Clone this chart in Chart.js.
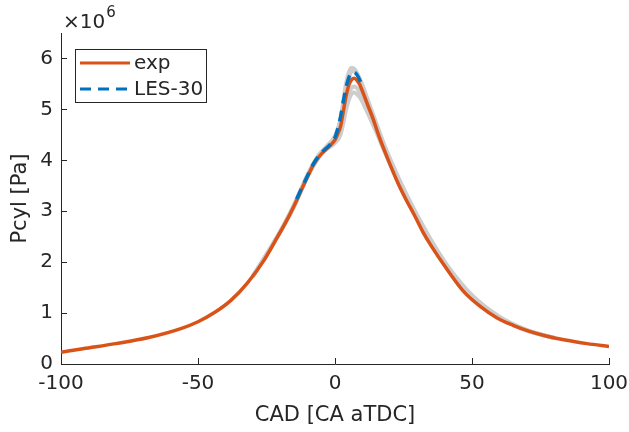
<!DOCTYPE html>
<html>
<head>
<meta charset="utf-8">
<script src="https://cdn.jsdelivr.net/npm/chart.js@4.4.1/dist/chart.umd.min.js"></script>
<style>
  html, body { margin: 0; padding: 0; background: #fff; }
  #wrap { width: 629px; height: 432px; }
</style>
</head>
<body>
<div id="wrap"><canvas id="pcyl" width="629" height="432"></canvas></div>
<script>
// crank angle (deg aTDC) and measured cylinder pressure (x1e6 Pa)
var expCad = [-100, -92, -80, -68, -56, -50, -44, -38, -32, -26, -22, -18, -15, -12, -10, -8, -6, -4, -2, 0,
  1, 2, 3, 4, 5, 6, 7, 8, 9, 10, 12, 14, 16, 18, 20, 23, 26, 29, 32, 35, 41, 47, 53, 59, 65, 71, 77, 84, 92, 100];
var expP = [0.23, 0.30, 0.40, 0.52, 0.70, 0.83, 1.01, 1.25, 1.59, 2.03, 2.40, 2.78, 3.10, 3.45, 3.68, 3.90, 4.06, 4.18, 4.28, 4.40,
  4.52, 4.66, 4.95, 5.25, 5.47, 5.58, 5.61, 5.57, 5.49, 5.36, 5.08, 4.80, 4.48, 4.20, 3.93, 3.55, 3.22, 2.92, 2.60, 2.33, 1.85, 1.42, 1.13, 0.91, 0.76, 0.64, 0.55, 0.47, 0.40, 0.345];

// LES-30 simulation
var lesCad = [-14, -12, -10, -8, -6, -4, -2, 0, 1, 2, 3, 4, 5, 6, 7, 8, 9, 10];
var lesP = [3.24, 3.47, 3.70, 3.92, 4.08, 4.20, 4.30, 4.45, 4.62, 4.85, 5.15, 5.42, 5.62, 5.72, 5.73, 5.68, 5.58, 5.45];

// individual cycles (grey)
var cycCad = [-30, -20, -15, -10, -6, -3, 0, 2, 3, 4, 5, 6, 7, 8, 9, 10, 12, 15, 18, 22, 26, 30, 36, 42, 50, 60, 70, 80];
var cyc1 = [1.72, 2.60, 3.12, 3.71, 4.09, 4.26, 4.45, 4.78, 5.15, 5.50, 5.72, 5.82, 5.80, 5.72, 5.60, 5.46, 5.15, 4.70, 4.25, 3.72, 3.27, 2.86, 2.30, 1.82, 1.33, 0.91, 0.66, 0.51];
var cyc2 = [1.72, 2.59, 3.08, 3.68, 4.05, 4.24, 4.36, 4.55, 4.80, 5.08, 5.30, 5.42, 5.45, 5.42, 5.35, 5.25, 5.00, 4.62, 4.22, 3.72, 3.28, 2.90, 2.33, 1.84, 1.34, 0.92, 0.66, 0.51];
var cyc3 = [1.72, 2.59, 3.10, 3.69, 4.06, 4.22, 4.34, 4.50, 4.72, 4.98, 5.18, 5.30, 5.33, 5.30, 5.24, 5.15, 4.92, 4.56, 4.18, 3.70, 3.27, 2.88, 2.32, 1.83, 1.33, 0.91, 0.66, 0.51];
var cyc4 = [1.72, 2.60, 3.12, 3.72, 4.10, 4.28, 4.48, 4.80, 5.10, 5.40, 5.62, 5.74, 5.76, 5.70, 5.60, 5.48, 5.18, 4.74, 4.30, 3.80, 3.34, 2.92, 2.35, 1.86, 1.35, 0.93, 0.67, 0.51];

var xTicks = [-100, -50, 0, 50, 100];
var yTicks = [0, 1, 2, 3, 4, 5, 6];

var FONT = 'DejaVu Sans';
var AXIS = '#262626';

function toXY(xs, ys) {
  var out = [];
  for (var i = 0; i < xs.length; i++) out.push({ x: xs[i], y: ys[i] * 1e6 });
  return out;
}

function greyCycle(vals) {
  return {
    label: '', data: toXY(cycCad, vals), borderColor: '#cdcdcd', borderWidth: 4, order: 3,
    pointRadius: 0, cubicInterpolationMode: 'monotone', fill: false, inLegend: false
  };
}

// inward tick marks, legend box and the x10^6 exponent
var decor = {
  id: 'decor',
  afterDraw: function(chart) {
    var ctx = chart.ctx, a = chart.chartArea;
    var xs = chart.scales.x, ys = chart.scales.y;
    ctx.save();
    ctx.strokeStyle = AXIS;
    ctx.lineWidth = 1;
    ctx.beginPath();
    xTicks.forEach(function(v) {
      var px = Math.round(xs.getPixelForValue(v)) + 0.5;
      ctx.moveTo(px, a.bottom);
      ctx.lineTo(px, a.bottom - 6);
    });
    yTicks.forEach(function(v) {
      var py = Math.round(ys.getPixelForValue(v * 1e6)) + 0.5;
      ctx.moveTo(a.left, py);
      ctx.lineTo(a.left + 6, py);
    });
    ctx.stroke();

    // exponent label
    ctx.fillStyle = AXIS;
    ctx.textBaseline = 'alphabetic';
    ctx.font = '20px ' + FONT;
    ctx.fillText('\u00d710', a.left + 2, 28);
    var w = ctx.measureText('\u00d710').width;
    ctx.font = '15px ' + FONT;
    ctx.fillText('6', a.left + 3 + w, 17);

    // legend
    var items = chart.data.datasets.filter(function(d) { return d.inLegend; });
    var bx = a.left + 14, by = 49, bw = 131, bh = 53;
    ctx.fillStyle = '#fff';
    ctx.fillRect(bx, by, bw, bh);
    ctx.strokeStyle = AXIS;
    ctx.lineWidth = 1;
    ctx.strokeRect(bx + 0.5, by + 0.5, bw, bh);
    items.forEach(function(d, i) {
      var ly = by + 14 + i * 26;
      ctx.beginPath();
      ctx.setLineDash(d.borderDash || []);
      ctx.strokeStyle = d.borderColor;
      ctx.lineWidth = 3;
      ctx.moveTo(bx + 5, ly);
      ctx.lineTo(bx + 55, ly);
      ctx.stroke();
      ctx.setLineDash([]);
      ctx.fillStyle = AXIS;
      ctx.font = '20px ' + FONT;
      ctx.textBaseline = 'middle';
      ctx.fillText(d.label, bx + 59, ly + 1);
    });
    ctx.restore();
  }
};

new Chart(document.getElementById('pcyl'), {
  type: 'line',
  data: {
    datasets: [
      greyCycle(cyc1), greyCycle(cyc2), greyCycle(cyc3), greyCycle(cyc4),
      {
        label: 'exp', data: toXY(expCad, expP), borderColor: '#D95319', borderWidth: 3.5, order: 2,
        pointRadius: 0, cubicInterpolationMode: 'monotone', fill: false, inLegend: true
      },
      {
        label: 'LES-30', data: toXY(lesCad, lesP), borderColor: '#0072BD', borderWidth: 3.5, order: 1,
        borderDash: [11, 7], pointRadius: 0, cubicInterpolationMode: 'monotone', fill: false, inLegend: true
      }
    ]
  },
  options: {
    responsive: false,
    animation: false,
    layout: { padding: { top: 33, right: 20, left: 0, bottom: 0 } },
    plugins: { legend: { display: false }, tooltip: { enabled: false } },
    scales: {
      x: {
        type: 'linear', min: -100, max: 100,
        afterBuildTicks: function(s) { s.ticks = xTicks.map(function(v) { return { value: v }; }); },
        afterFit: function(s) { s.height = 68; s.paddingLeft = 0; s.paddingRight = 0; },
        grid: { display: false, drawTicks: false },
        border: { display: true, color: AXIS, width: 1 },
        ticks: { color: AXIS, font: { family: FONT, size: 20 }, padding: 8, maxRotation: 0 },
        title: { display: true, text: 'CAD [CA aTDC]', color: AXIS, font: { family: FONT, size: 21 }, padding: { top: 2 } }
      },
      y: {
        min: 0, max: 6.5e6,
        afterBuildTicks: function(s) { s.ticks = yTicks.map(function(v) { return { value: v * 1e6 }; }); },
        afterFit: function(s) { s.width = 61; },
        grid: { display: false, drawTicks: false },
        border: { display: true, color: AXIS, width: 1 },
        ticks: {
          color: AXIS, font: { family: FONT, size: 20 }, padding: 8,
          callback: function(v) { return String(v / 1e6); }
        },
        title: { display: true, text: 'Pcyl [Pa]', color: AXIS, font: { family: FONT, size: 21 }, padding: { top: 8, bottom: 0 } }
      }
    }
  },
  plugins: [decor]
});
</script>
</body>
</html>
